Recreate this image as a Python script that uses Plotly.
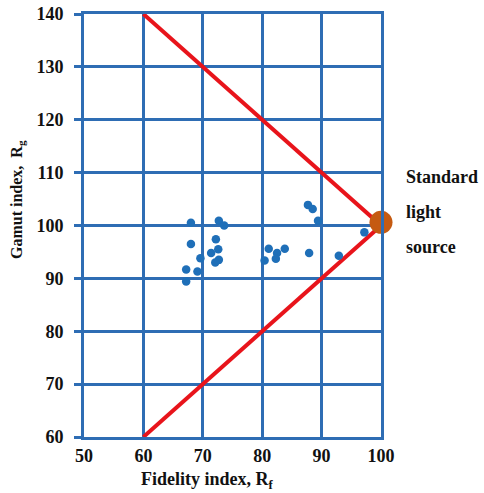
import plotly.graph_objects as go

# Data
fidelity = [68.0, 72.7, 73.6, 68.0, 72.2, 72.6, 71.4, 69.6, 72.7, 72.1, 67.2, 69.1, 67.2,
            81.1, 82.5, 83.8, 80.4, 82.3, 87.7, 88.5, 89.4, 87.9, 92.9, 97.2]
gamut = [100.5, 100.9, 100.0, 96.5, 97.4, 95.5, 94.8, 93.8, 93.5, 93.0, 91.7, 91.3, 89.4,
         95.6, 94.8, 95.6, 93.4, 93.7, 103.9, 103.1, 100.9, 94.8, 94.3, 98.7]
upper_x = [60, 100]
upper_y = [140, 100]
lower_x = [60, 100]
lower_y = [60, 100]
std_x = [100.0]
std_y = [100.6]
x_ticks = [50, 60, 70, 80, 90, 100]
y_ticks = [60, 70, 80, 90, 100, 110, 120, 130, 140]

BLUE = "#2E6DB4"
DOT = "#1F6FB8"
RED = "#E8141B"
ORANGE = "#C55A11"
FONT = "Liberation Serif"

fig = go.Figure()
fig.add_trace(go.Scatter(x=upper_x, y=upper_y, mode="lines",
                         line=dict(color=RED, width=4), cliponaxis=False, showlegend=False))
fig.add_trace(go.Scatter(x=lower_x, y=lower_y, mode="lines",
                         line=dict(color=RED, width=4), cliponaxis=False, showlegend=False))
fig.add_trace(go.Scatter(x=fidelity, y=gamut, mode="markers",
                         marker=dict(color=DOT, size=8.5), showlegend=False))
fig.add_trace(go.Scatter(x=std_x, y=std_y, mode="markers",
                         marker=dict(color=ORANGE, size=23), cliponaxis=False, showlegend=False))

fig.update_layout(
    width=484, height=493,
    margin=dict(l=84, r=103, t=14, b=56),
    paper_bgcolor="white", plot_bgcolor="white",
    xaxis=dict(range=[50, 100], tickvals=x_ticks, showgrid=True, gridcolor=BLUE, gridwidth=3,
               zeroline=False, showline=True, linecolor=BLUE, linewidth=3, mirror=True,
               ticks="", ticklabelstandoff=0, automargin=False,
               tickfont=dict(family=FONT, size=18, color="#111", weight="bold")),
    yaxis=dict(range=[60, 140], tickvals=y_ticks, showgrid=True, gridcolor=BLUE, gridwidth=3,
               zeroline=False, showline=True, linecolor=BLUE, linewidth=3, mirror=True,
               ticks="outside", ticklen=7, tickwidth=3, tickcolor=BLUE, ticklabelstandoff=7,
               automargin=False,
               tickfont=dict(family=FONT, size=18, color="#111", weight="bold")),
)

fig.add_annotation(text="Fidelity index, R<sub>f</sub>", xref="paper", yref="paper",
                   x=(207 - 84) / 297, y=-(481 - 437) / 423, xanchor="center", yanchor="middle",
                   showarrow=False,
                   font=dict(family=FONT, size=18, color="#111", weight="bold"))
fig.add_annotation(text="Gamut index,  R<sub>g</sub>", xref="paper", yref="paper",
                   x=(17 - 84) / 297, y=(437 - 200) / 423, xanchor="center", yanchor="middle",
                   showarrow=False, textangle=-90,
                   font=dict(family=FONT, size=16, color="#111", weight="bold"))
for txt, py in [("Standard", 177), ("light", 212), ("source", 247)]:
    fig.add_annotation(text=txt, xref="paper", yref="paper", xanchor="left", yanchor="middle",
                       x=(404 - 84) / 297, y=(437 - py) / 423, showarrow=False,
                       font=dict(family=FONT, size=18, color="#111", weight="bold"))

fig.write_html("out.html", config={"displayModeBar": False},
               post_script="document.body.style.margin='0';")
